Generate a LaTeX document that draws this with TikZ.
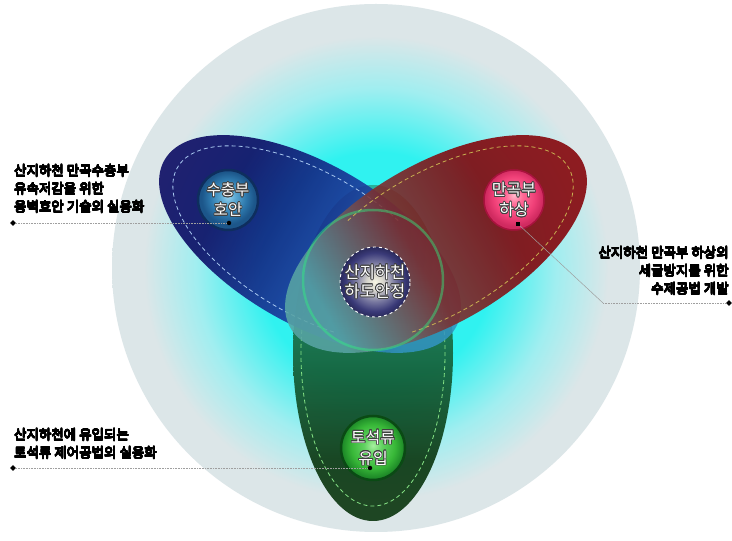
\documentclass[tikz,border=0pt]{standalone}
\usepackage{fontspec}
\usepackage{contour}
\usetikzlibrary{shapes.geometric}
\newfontfamily\kr{Noto Sans CJK KR}
\contourlength{0.7pt}
\contournumber{16}

\definecolor{bgcyan}{HTML}{30F2F0}
\definecolor{bgmid}{HTML}{A0EEF0}
\definecolor{bgout}{HTML}{DCE6E8}
\definecolor{blueout}{HTML}{060660}
\definecolor{bluemid}{HTML}{1A3498}
\definecolor{bluetip}{HTML}{3294C0}
\definecolor{redout}{HTML}{840006}
\definecolor{redmid}{HTML}{7E2A2A}
\definecolor{redtip}{HTML}{58A4A4}
\definecolor{greenout}{HTML}{043008}
\definecolor{greenmid}{HTML}{18643A}
\definecolor{greentip}{HTML}{28A890}
\definecolor{bluedash}{HTML}{A8C8F0}
\definecolor{reddash}{HTML}{C8B050}
\definecolor{greendash}{HTML}{86E486}
\definecolor{ringgreen}{HTML}{30F080}
\definecolor{bB1}{HTML}{9AD0EC}
\definecolor{bB2}{HTML}{5AA8D2}
\definecolor{bB3}{HTML}{2D78AC}
\definecolor{bB4}{HTML}{1C568A}
\definecolor{bBr}{HTML}{0E2E5E}
\definecolor{bR1}{HTML}{FFB8CC}
\definecolor{bR2}{HTML}{FF6A96}
\definecolor{bR3}{HTML}{F04078}
\definecolor{bR4}{HTML}{D02A60}
\definecolor{bRr}{HTML}{A8123E}
\definecolor{bG1}{HTML}{A8F0A0}
\definecolor{bG2}{HTML}{62D262}
\definecolor{bG3}{HTML}{38B838}
\definecolor{bG4}{HTML}{1E8A28}
\definecolor{bGr}{HTML}{0A4A14}
\definecolor{bC1}{HTML}{F8F6E4}
\definecolor{bC2}{HTML}{D6D4CC}
\definecolor{bC3}{HTML}{7878A0}
\definecolor{bC4}{HTML}{3A3A78}
\definecolor{bC5}{HTML}{2A2A5C}

% radial shadings: the path's radius corresponds to 25bp
\pgfdeclareradialshading{bgshade}{\pgfpoint{0bp}{0bp}}{color(0bp)=(bgcyan); color(11bp)=(bgcyan); color(17bp)=(bgmid); color(22bp)=(bgout); color(50bp)=(bgout)}
\pgfdeclareradialshading{ballB}{\pgfpoint{0bp}{3bp}}{color(0bp)=(bB1); color(6bp)=(bB2); color(15bp)=(bB3); color(22bp)=(bB4); color(50bp)=(bB4)}
\pgfdeclareradialshading{ballR}{\pgfpoint{0bp}{4bp}}{color(0bp)=(bR1); color(7bp)=(bR2); color(17bp)=(bR3); color(24bp)=(bR4); color(50bp)=(bR4)}
\pgfdeclareradialshading{ballG}{\pgfpoint{0bp}{2bp}}{color(0bp)=(bG1); color(7bp)=(bG2); color(17bp)=(bG3); color(24bp)=(bG4); color(50bp)=(bG4)}
\pgfdeclareradialshading{ballC}{\pgfpoint{0bp}{0bp}}{color(0bp)=(bC1); color(6bp)=(bC2); color(14bp)=(bC3); color(21bp)=(bC4); color(25bp)=(bC5); color(50bp)=(bC5)}
% petal shadings: outer end on the left, tip on the right
\pgfdeclarehorizontalshading{petalB}{100bp}{color(0bp)=(blueout); color(34bp)=(blueout); color(52bp)=(bluemid); color(72bp)=(bluetip); color(100bp)=(bluetip)}
\pgfdeclarehorizontalshading{petalR}{100bp}{color(0bp)=(redout); color(38bp)=(redout); color(54bp)=(redmid); color(72bp)=(redtip); color(100bp)=(redtip)}
\pgfdeclarehorizontalshading{petalG}{100bp}{color(0bp)=(greenout); color(34bp)=(greenout); color(52bp)=(greenmid); color(74bp)=(greentip); color(100bp)=(greentip)}

\tikzset{
  lbl/.style={font=\kr\fontsize{13.5}{18}\selectfont, inner sep=0pt, text=black},
  balltxt/.style={font=\kr\fontsize{15.5}{20}\selectfont, text=white, align=center, inner sep=0pt, circle, shading=#1},
  conn/.style={draw=gray!75, line width=0.6pt, densely dotted},
  connsolid/.style={draw=gray!75, line width=0.5pt},
  tipmark/.style={diamond, fill=black, inner sep=0pt, minimum size=6pt},
  dotmark/.style={circle, fill=black, inner sep=0pt, minimum size=4.5pt},
  sqmark/.style={rectangle, fill=black, inner sep=0pt, minimum size=4pt},
  petaldash/.style={dashed, dash pattern=on 4pt off 3pt, line width=0.8pt, draw=#1},
  petal/.style 2 args={shading=#1, shading angle=#2, opacity=0.88},
}
\newcommand{\ctxt}[1]{\contour{black!75}{#1}}
\newcommand{\btxt}[1]{{\contourlength{0.28pt}\contour{black}{#1}}}

\begin{document}
\begin{tikzpicture}[x=1pt,y=1pt]
\useasboundingbox (0,0) rectangle (732,541);
\fill[white] (0,0) rectangle (732,541);

% background disc
\shade[shading=bgshade] (376,273) circle[radius=264pt];

% green petal
\begin{scope}[shift={(373,188)}, rotate=-90]
  \shade[petal={petalG}{90}] (0,0) ellipse[x radius=168pt, y radius=80pt];
  \draw[petaldash=greendash] (-115:153pt and 72pt) arc[start angle=-115, end angle=115, x radius=153pt, y radius=72pt];
\end{scope}
% blue petal
\begin{scope}[shift={(310,297)}, rotate=150]
  \shade[petal={petalB}{-30}] (0,0) ellipse[x radius=168pt, y radius=80pt];
  \draw[petaldash=bluedash] (-115:153pt and 71pt) arc[start angle=-115, end angle=115, x radius=153pt, y radius=71pt];
\end{scope}
% red petal
\begin{scope}[shift={(436,297)}, rotate=30]
  \shade[petal={petalR}{210}] (0,0) ellipse[x radius=168pt, y radius=80pt];
  \draw[petaldash=reddash] (-115:153pt and 71pt) arc[start angle=-115, end angle=115, x radius=153pt, y radius=71pt];
\end{scope}

% green ring round the centre
\draw[ringgreen, line width=2.5pt, opacity=0.45] (373,261) circle[radius=70pt];

% balls
\node[balltxt=ballC, minimum size=70pt, draw=white, dashed, line width=0.9pt, font=\kr\fontsize{16.5}{19}\selectfont] (center) at (375,259) {\ctxt{산지하천}\\\ctxt{하도안정}};
\node[balltxt=ballB, minimum size=60pt, draw=bBr, line width=2.5pt] (blue) at (228,341) {\ctxt{수충부}\\\ctxt{호안}};
\node[balltxt=ballR, minimum size=60pt, draw=bRr, line width=1.5pt, font=\kr\fontsize{16}{20}\selectfont] (red) at (514,341) {\ctxt{만곡부}\\\ctxt{하상}};
\node[balltxt=ballG, minimum size=64pt, draw=bGr, line width=2.5pt, font=\kr\fontsize{16}{21}\selectfont] (green) at (373,93) {\ctxt{토석류}\\\ctxt{유입}};

% labels
\node[lbl, anchor=west, align=left] (lblA) at (14,352) {\btxt{산지하천 만곡수충부}\\\btxt{유속저감을 위한}\\\btxt{옹벽호안 기술의 실용화}};
\node[lbl, anchor=east, align=right] (lblB) at (729,270) {\btxt{산지하천 만곡부 하상의}\\\btxt{세굴방지를 위한}\\\btxt{수제공법 개발}};
\node[lbl, anchor=west, align=left] (lblC) at (14,97) {\btxt{산지하천에 유입되는}\\\btxt{토석류 제어공법의 실용화}};

% markers and connectors
\node[dotmark] (dA) at (229,318) {};
\node[tipmark] (tA) at (13,318) {};
\draw[conn] (tA) -- (dA);

\node[sqmark] (dB) at (518,317) {};
\coordinate (kB) at (603,238);
\node[tipmark] (tB) at (729,238) {};
\draw[connsolid] (dB) -- (kB);
\draw[conn] (kB) -- (tB);

\node[dotmark] (dC) at (370,73) {};
\node[tipmark] (tC) at (13,73) {};
\draw[conn] (tC) -- (dC);
\end{tikzpicture}
\end{document}
